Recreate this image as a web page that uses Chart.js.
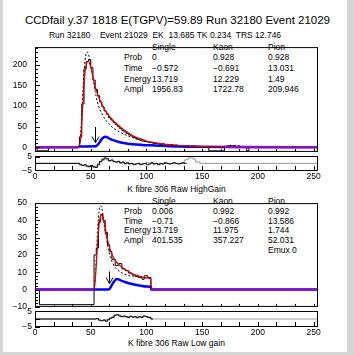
<!DOCTYPE html>
<html>
<head>
<meta charset="utf-8">
<script src="https://cdn.jsdelivr.net/npm/chart.js@4.4.1/dist/chart.umd.min.js"></script>
<style>
  body { margin: 0; width: 354px; height: 355px; background: #d6d6d6; position: relative; overflow: hidden;
         font-family: "Liberation Sans", Arial, sans-serif; color: #000; }
  #pad { position: absolute; left: 3px; top: 0; width: 344px; height: 352px; background: #fff; }
  .t { position: absolute; white-space: pre; font-size: 8.5px; line-height: 10px; }
  canvas { position: absolute; left: 0; }
</style>
</head>
<body>
<div id="pad"></div>
<div id="texts"></div>
<canvas id="topMain" width="354" height="131" style="top:34px"></canvas>
<canvas id="topRes" width="354" height="41" style="top:146px"></canvas>
<canvas id="lowMain" width="354" height="130" style="top:190px"></canvas>
<canvas id="lowRes" width="354" height="42" style="top:301px"></canvas>
<script>
// textos
const titleText = 'CCDfail y.37 1818 E(TGPV)=59.89 Run 32180 Event 21029';
const infoText = 'Run 32180    Event 21029  EK  13.685 TK 0.234  TRS 12.746';
const topAxisTitle = 'K fibre 306 Raw HighGain';
const lowAxisTitle = 'K fibre 306 Raw Low gain';

const statRows = ['Prob', 'Time', 'Energy', 'Ampl'];
const statCols = ['Single', 'Kaon', 'Pion'];
const topSingle = ['0', '\u22120.572', '13.719', '1956.83'];
const topKaon = ['0.928', '\u22120.691', '12.229', '1722.78'];
const topPion = ['0.928', '13.031', '1.49', '209.946'];
const lowSingle = ['0.006', '\u22120.71', '13.719', '401.535'];
const lowKaon = ['0.992', '\u22120.866', '11.975', '357.227'];
const lowPion = ['0.992', '13.586', '1.744', '52.031', 'Emux 0'];

// eixos
const xMin = 0, xMax = 254;
const xTicks = [0, 50, 100, 150, 200, 250];
const xTickLabels = ['0', '50', '100', '150', '200', '250'];
const yTicksTop = [0, 50, 100, 150, 200];
const yTicksLow = [-10, 0, 10, 20, 30, 40, 50];
const yTicksRes = [-5, 0, 5];

// HighGain: histograma (borda inferior de cada bin + conteudo)
const topHistEdges = [0, 2, 12, 38, 40, 42, 44, 46, 48, 50, 52, 54, 56, 58, 60, 62, 64, 66, 68, 70,
  72, 74, 76, 78, 80, 82, 84, 86, 88, 90, 92, 94, 96, 98, 100, 102, 104, 106, 108, 110,
  112, 114, 116, 118, 120, 122, 124, 126, 128, 130, 132, 134, 136, 138, 140, 142, 144, 146, 148, 150,
  152, 156, 170, 172, 174, 176, 178, 180, 182, 184, 186, 188, 190, 192];
const topHistCounts = [0, -9, 0, 2, 25, 105, 190, 208, 213, 193, 163, 140, 125, 110, 98, 88, 80, 72, 66, 60,
  55, 50, 45, 40, 37, 33, 30, 27, 24, 21, 19, 17, 15, 14, 13, 12, 11, 9, 9, 8,
  7, 8, 6, 7, 5, 6, 4, 5, 3, 4, 3, 2, 3, 1, 2, 3, 1, 2, 0, 1,
  0, -9, 0, 3, 4, 3, 4, 2, 3, 0, 1, 0, -9, 0];

// HighGain: ajustes
const topFitX = [0, 38, 39, 40, 41, 42, 43, 44, 45, 46, 47, 48, 49, 50, 52, 54, 56, 58, 60, 62, 64, 66, 68, 70,
  74, 78, 82, 86, 90, 95, 100, 110, 120, 130, 140, 150, 170, 200, 254];
const topFitY = [0, 0, 1, 5, 20, 60, 110, 150, 185, 200, 207, 208, 204, 195, 170, 148, 130, 116, 104, 94, 85, 78, 71, 65,
  55, 46, 38, 31, 25, 20, 15, 10, 6, 4, 2.5, 1.5, 0.8, 0.3, 0];
const topKaonX = [38, 39, 40, 41, 42, 43, 44, 45, 46, 47, 48, 49, 50, 52, 54, 56, 58, 60, 62, 64, 66, 68, 70,
  74, 78, 82, 86, 90, 95, 100, 110, 120, 130, 140, 150];
const topKaonY = [0, 2, 10, 35, 80, 135, 180, 212, 228, 231, 226, 214, 200, 170, 135, 110, 93, 82, 72, 64, 58, 52, 47,
  40, 34, 29, 25, 21, 17, 13.5, 9, 6, 4, 2.5, 1.5];
const topPionX = [0, 38, 40, 54, 55, 56, 58, 60, 62, 63, 64, 66, 70, 76, 82, 88, 96, 104, 112, 120, 130, 145, 170, 254];
const topPionY = [0, 0, 1.5, 2, 3, 5, 12, 20, 24.5, 25.5, 25, 22, 17, 12, 9, 7, 5.5, 4.5, 3.5, 2.5, 1.5, 0.8, 0.3, 0];
const topArrow = { x: 54, from: 49, to: 11 };

// HighGain: residuos
const topResEdges = [0, 40, 42, 44, 46, 48, 50, 52, 54, 56, 58, 60, 62, 64, 66, 68, 70, 72, 74, 76, 78,
  80, 82, 84, 86, 88, 90, 92, 94, 96, 98, 100, 102, 104, 106, 108, 110, 112, 114, 116, 118,
  120, 122, 124, 126, 128, 130, 132, 134];
const topResValues = [0, -1, -1.5, -1, -2, -2.5, -1.5, -2.5, -3, -1, 1.5, 3, 4, 3.5, 2, 2.5, 1.5, 1, 1.5, 0.5, 1,
  0, 0.5, -0.5, 0, -1, -0.5, 0, -1, -0.5, 0, -1, -0.5, 0.5, -0.5, 0, -1, 0, -0.5, 0.5, 0,
  -0.5, 0, 0.5, 0, -0.5, 0, 0.5, 0];
const topRes2Edges = [0, 40, 42, 44, 46, 48, 50, 52, 54, 56, 58, 60, 62, 64, 66, 68, 70, 72, 74, 76, 78,
  80, 82, 88, 90, 100, 102, 112, 114, 134, 136, 138, 140, 142, 144, 148];
const topRes2Values = [0, -0.5, -1.5, -2, -2.5, -1.5, -2, -3, -2, 0, 1, 2, 3, 2.5, 1.5, 2, 1, 0.5, 1, 0, 0.5,
  -0.5, 0, -0.5, 0, 0.5, 0, -0.5, 0, 2.5, 3, 4, 4, 3, 1, 0];

// Low gain: histograma
const lowHistEdges = [0, 4, 53, 55, 57, 59, 61, 63, 65, 67, 69, 72, 75, 78, 81, 84, 87, 90, 93, 96, 98, 101, 104];
const lowHistCounts = [0, -8.7, 20, 24, 39, 43.5, 40, 33, 26, 22, 17.5, 14, 15, 12, 11, 9.5, 8.5, 7.5, 7, 6, 8, 7, 0];

// Low gain: ajustes
const lowFitX = [0, 53, 54, 55, 56, 57, 58, 59, 60, 61, 62, 63, 65, 67, 70, 73, 76, 80, 85, 90, 95, 100, 104, 104.3, 254];
const lowFitY = [0, 0, 5, 14, 25, 34, 40, 43, 43, 41.5, 39, 36, 29, 24, 19, 16, 14, 12, 10, 8.5, 7.5, 6.8, 6.3, 0, 0];
const lowKaonX = [53, 54, 55, 56, 57, 58, 59, 60, 61, 62, 64, 66, 68, 70, 73, 76, 80, 85, 90, 95, 100, 104];
const lowKaonY = [0, 6, 18, 32, 42, 47, 48.5, 47, 43, 38, 30, 23, 18, 15, 12, 10.5, 9, 8, 7.7, 7.2, 6.8, 6.5];
const lowPionX = [0, 66, 67, 68, 70, 72, 73.5, 75, 78, 82, 86, 90, 95, 100, 104, 104.3, 254];
const lowPionY = [0, 0, 0.5, 1.5, 3.8, 5.5, 6.1, 5.9, 5, 4.1, 3.4, 2.8, 2.2, 1.8, 1.6, 0, 0];
const lowArrow = { x: 66.5, from: 10.5, to: 3.5 };

// Low gain: residuos
const lowResEdges = [0, 55, 57, 59, 61, 63, 65, 67, 69, 71, 73, 75, 77, 79, 81, 83, 85, 87, 89, 91, 93, 95, 97, 99, 101, 104];
const lowResValues = [0, 0.3, -0.8, -1.2, -0.6, -1.5, -0.5, 0.5, 1, 2.5, 2.8, 2, 1.5, 2, 1.5, 1, 1.8, 1.2, 1.5, 0.8, 1.5, 1, 2, 1.6, 1, 0];
const lowRes2Edges = [0, 57, 59, 63, 65, 67, 69, 71, 73, 75, 77, 79, 83, 87, 91, 95, 99, 104];
const lowRes2Values = [0, -0.3, -1, -0.5, 0, 0.8, 1.5, 2.2, 2.5, 2.6, 1.8, 1.3, 1.6, 1.2, 1.4, 1.7, 1.3, 0];

const FONT = '"Liberation Sans", Arial, sans-serif';
const fitRed = '#e00000';
const baseViolet = '#9010c0';

function histPoints(edges, counts, upper) {
    const pts = edges.map((x, i) => ({ x: x, y: counts[i] }));
    pts.push({ x: upper, y: counts[counts.length - 1] });
    return pts;
}
function curvePoints(xs, ys) {
    return xs.map((x, i) => ({ x: x, y: ys[i] }));
}
// parte do ajuste que fica na linha de base (vermelho sobre azul: violeta)
function basePart(xs, ys) {
    return xs.map((x, i) => ({ x: x, y: Math.abs(ys[i]) < 1 ? ys[i] : null }));
}
function minus(v) {
    return String(v).replace('-', '\u2212');
}

// moldura, marcas internas e seta (estilo ROOT)
const rootFrame = {
    id: 'rootFrame',
    afterDatasetsDraw(chart, args, opts) {
        const ctx = chart.ctx;
        const a = chart.chartArea;
        const xs = chart.scales.x, ys = chart.scales.y;
        ctx.save();
        ctx.strokeStyle = '#000';
        ctx.lineWidth = 1;
        ctx.beginPath();
        for (let v = xMin; v <= xMax; v += 50 / 3) {
            const px = Math.round(xs.getPixelForValue(v)) + 0.5;
            ctx.moveTo(px, a.bottom);
            ctx.lineTo(px, a.bottom - opts.xTickLen);
        }
        for (let v = Math.ceil(ys.min / opts.yMinor) * opts.yMinor; v <= ys.max; v += opts.yMinor) {
            const major = Math.abs(v / opts.yMajor - Math.round(v / opts.yMajor)) < 1e-6;
            const py = Math.round(ys.getPixelForValue(v)) + 0.5;
            ctx.moveTo(a.left, py);
            ctx.lineTo(a.left + (major ? 5 : 3), py);
        }
        ctx.stroke();
        ctx.strokeRect(a.left + 0.5, a.top + 0.5, a.right - a.left - 1, a.bottom - a.top - 1);
        if (opts.arrow) {
            const ax = Math.round(xs.getPixelForValue(opts.arrow.x)) + 0.5;
            const y0 = ys.getPixelForValue(opts.arrow.from);
            const y1 = ys.getPixelForValue(opts.arrow.to);
            ctx.beginPath();
            ctx.moveTo(ax, y0);
            ctx.lineTo(ax, y1);
            ctx.moveTo(ax - 3.5, y1 - 6);
            ctx.lineTo(ax, y1);
            ctx.lineTo(ax + 3.5, y1 - 6);
            ctx.stroke();
        }
        ctx.restore();
    }
};

function buildChart(id, cfg) {
    return new Chart(document.getElementById(id), {
        type: 'line',
        data: { datasets: cfg.datasets },
        options: {
            responsive: false,
            animation: false,
            devicePixelRatio: 1,
            layout: { padding: { left: 0, right: 36, top: 10, bottom: cfg.padBottom } },
            elements: { point: { radius: 0 }, line: { borderJoinStyle: 'miter' } },
            plugins: {
                legend: { display: false },
                tooltip: { enabled: false },
                rootFrame: { xTickLen: cfg.xTickLen, yMinor: cfg.yMinor, yMajor: cfg.yMajor, arrow: cfg.arrow }
            },
            scales: {
                x: {
                    type: 'linear', min: xMin, max: xMax, display: cfg.showX,
                    grid: { display: false, drawTicks: false }, border: { display: false },
                    afterBuildTicks: s => { s.ticks = xTicks.map(v => ({ value: v })); },
                    afterFit: s => { s.height = cfg.showX ? 14 : 0; },
                    ticks: {
                        autoSkip: false, maxRotation: 0, padding: 1, color: '#000',
                        font: { family: FONT, size: 8.5 },
                        callback: v => xTickLabels[xTicks.indexOf(v)]
                    }
                },
                y: {
                    type: 'linear', min: cfg.yMin, max: cfg.yMax,
                    grid: { display: false, drawTicks: false }, border: { display: false },
                    afterBuildTicks: s => { s.ticks = cfg.yTicks.map(v => ({ value: v })); },
                    afterFit: s => { s.width = 35; },
                    ticks: {
                        padding: cfg.yPad, color: '#000',
                        font: { family: FONT, size: 8.5 },
                        callback: v => minus(v)
                    }
                }
            }
        },
        plugins: [rootFrame]
    });
}

// o pion fica por baixo de tudo, a linha de base violeta por cima
function mainDatasets(hist, fit, base, kaon, pion) {
    return [
        { data: base, borderColor: baseViolet, borderWidth: 2.2, spanGaps: false, order: 0 },
        { data: fit, borderColor: fitRed, borderWidth: 1.2, cubicInterpolationMode: 'monotone', order: 1 },
        { data: kaon, borderColor: '#000', borderWidth: 1, borderDash: [2, 2], cubicInterpolationMode: 'monotone', order: 2 },
        { data: hist, borderColor: '#000', borderWidth: 1, stepped: 'before', order: 3 },
        { data: pion, borderColor: '#0000ff', borderWidth: 2.5, cubicInterpolationMode: 'monotone', order: 4 }
    ];
}

function resDatasets(black, gray) {
    return [
        { data: black, borderColor: '#000', borderWidth: 1, stepped: 'before', order: 1 },
        { data: gray, borderColor: '#9a9a9a', borderWidth: 1, stepped: 'before', order: 2 }
    ];
}

buildChart('topMain', {
    datasets: mainDatasets(
        histPoints(topHistEdges, topHistCounts, xMax),
        curvePoints(topFitX, topFitY),
        basePart(topFitX, topFitY),
        curvePoints(topKaonX, topKaonY),
        curvePoints(topPionX, topPionY)),
    padBottom: 10, showX: false, yMin: -11.5, yMax: 243, yTicks: yTicksTop, yPad: 8,
    yMinor: 10, yMajor: 50, xTickLen: 3, arrow: topArrow
});
buildChart('topRes', {
    datasets: resDatasets(histPoints(topResEdges, topResValues, 136), histPoints(topRes2Edges, topRes2Values, xMax)),
    padBottom: 2, showX: true, yMin: -5.6, yMax: 5.4, yTicks: yTicksRes, yPad: 3,
    yMinor: 5, yMajor: 5, xTickLen: 5, arrow: null
});
buildChart('lowMain', {
    datasets: mainDatasets(
        histPoints(lowHistEdges, lowHistCounts, xMax),
        curvePoints(lowFitX, lowFitY),
        basePart(lowFitX, lowFitY),
        curvePoints(lowKaonX, lowKaonY),
        curvePoints(lowPionX, lowPionY)),
    padBottom: 10, showX: false, yMin: -10, yMax: 50, yTicks: yTicksLow, yPad: 8,
    yMinor: 2, yMajor: 10, xTickLen: 3, arrow: lowArrow
});
buildChart('lowRes', {
    datasets: resDatasets(histPoints(lowResEdges, lowResValues, 106), histPoints(lowRes2Edges, lowRes2Values, xMax)),
    padBottom: 2, showX: true, yMin: -5.2, yMax: 5.2, yTicks: yTicksRes, yPad: 3,
    yMinor: 5, yMajor: 5, xTickLen: 5, arrow: null
});

// textos em HTML
const box = document.getElementById('texts');
function addText(str, left, cy, extra) {
    const d = document.createElement('div');
    d.className = 't';
    d.textContent = str;
    d.style.left = left + 'px';
    d.style.top = (cy - 5) + 'px';
    if (extra) Object.assign(d.style, extra);
    box.appendChild(d);
    return d;
}
addText(titleText, 0, 20, { width: '355px', textAlign: 'center', fontSize: '11.5px', lineHeight: '10px' });
addText(infoText, 0, 35, { width: '330px', textAlign: 'center' });
addText(topAxisTitle, 0, 189, { width: '353px', textAlign: 'center' });
addText(lowAxisTitle, 0, 343, { width: '353px', textAlign: 'center' });

function addStats(headerY, rowY, step, cols) {
    const colX = [152, 213, 268];
    statCols.forEach((c, j) => addText(c, colX[j], headerY));
    statRows.forEach((r, i) => addText(r, 124, rowY + i * step));
    cols.forEach((vals, j) => vals.forEach((v, i) => addText(v, colX[j], rowY + i * step)));
}
addStats(46.5, 57.3, 10.7, [topSingle, topKaon, topPion]);
addStats(200.7, 210.7, 9.8, [lowSingle, lowKaon, lowPion]);
</script>
</body>
</html>
